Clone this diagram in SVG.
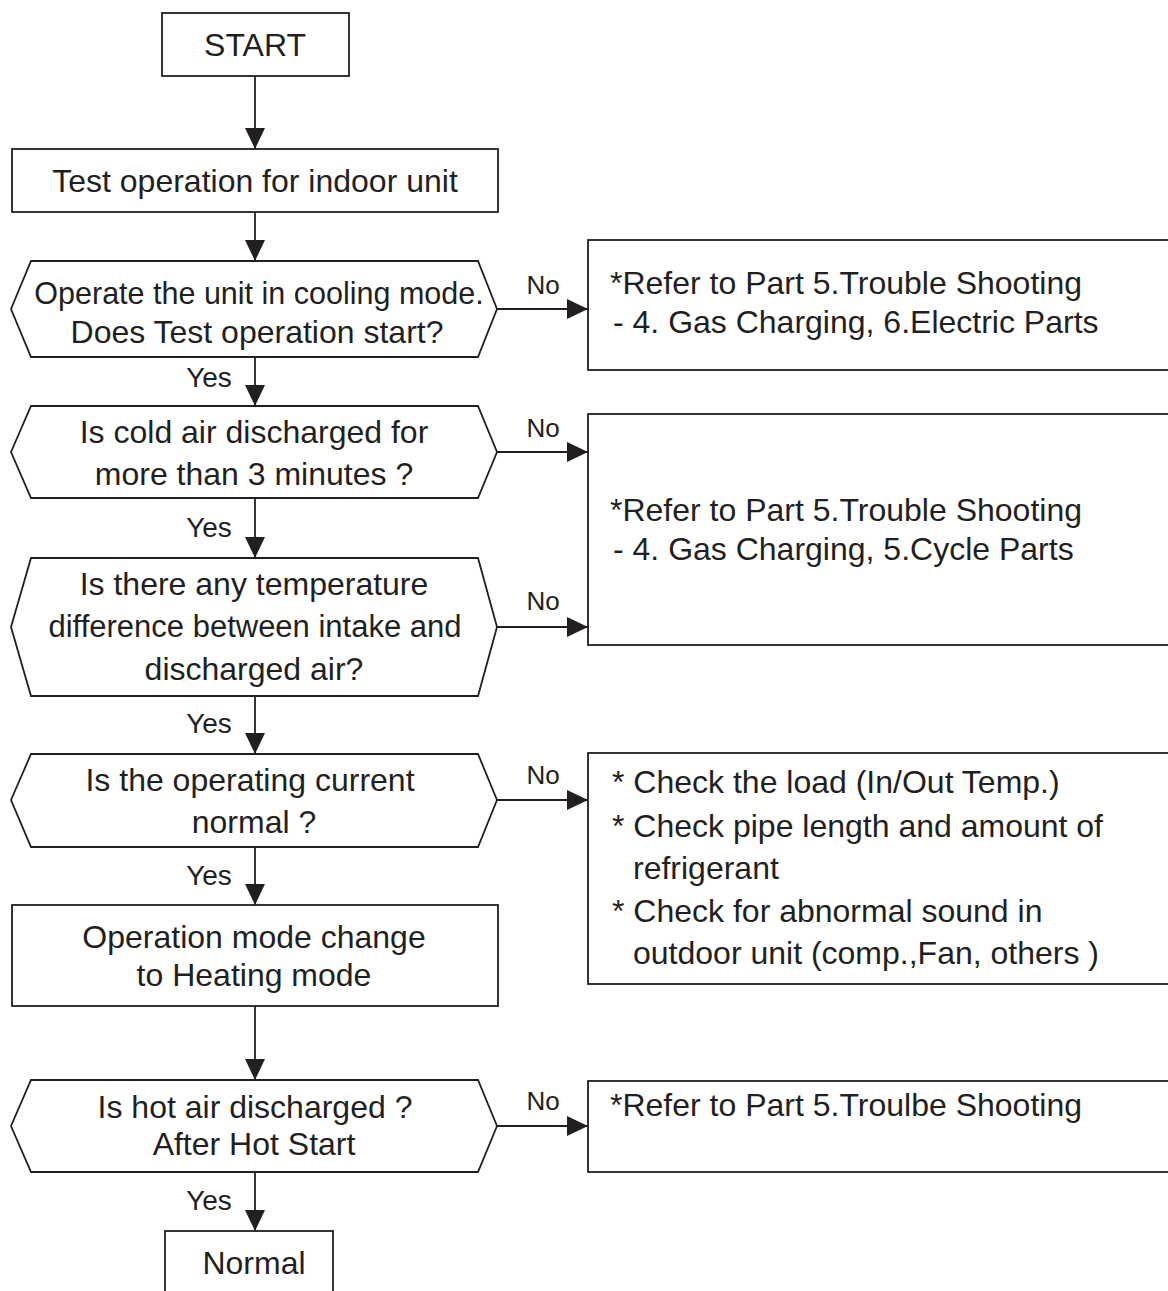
<svg xmlns="http://www.w3.org/2000/svg" width="1168" height="1291" viewBox="0 0 1168 1291">
<style>
.box{fill:#fff;stroke:#231f20;stroke-width:1.8}
.t{font-family:"Liberation Sans",Arial,sans-serif;font-size:32px;fill:#231f20}
.c{text-anchor:middle}
.lbl{font-family:"Liberation Sans",Arial,sans-serif;font-size:26px;fill:#231f20;text-anchor:middle}
.y{font-size:28px}
.ln{fill:none;stroke:#231f20;stroke-width:1.8}
</style>
<defs>
<marker id="ah" markerUnits="userSpaceOnUse" markerWidth="21" markerHeight="20" refX="21" refY="10" orient="auto">
<path d="M0,0 L21,10 L0,20 z" fill="#231f20"/>
</marker>
</defs>
<rect width="1168" height="1291" fill="#fff"/>
<g id="connectors">
<line class="ln" x1="255" y1="76" x2="255" y2="149" marker-end="url(#ah)"/>
<line class="ln" x1="255" y1="212" x2="255" y2="261" marker-end="url(#ah)"/>
<line class="ln" x1="255" y1="357" x2="255" y2="406" marker-end="url(#ah)"/>
<line class="ln" x1="255" y1="498" x2="255" y2="558" marker-end="url(#ah)"/>
<line class="ln" x1="255" y1="696" x2="255" y2="754" marker-end="url(#ah)"/>
<line class="ln" x1="255" y1="847" x2="255" y2="905" marker-end="url(#ah)"/>
<line class="ln" x1="255" y1="1006" x2="255" y2="1080" marker-end="url(#ah)"/>
<line class="ln" x1="255" y1="1172" x2="255" y2="1231" marker-end="url(#ah)"/>
<line class="ln" x1="497" y1="309" x2="588" y2="309" marker-end="url(#ah)"/>
<line class="ln" x1="497" y1="452" x2="588" y2="452" marker-end="url(#ah)"/>
<line class="ln" x1="497" y1="627" x2="588" y2="627" marker-end="url(#ah)"/>
<line class="ln" x1="497" y1="800" x2="588" y2="800" marker-end="url(#ah)"/>
<line class="ln" x1="497" y1="1126" x2="588" y2="1126" marker-end="url(#ah)"/>
<text class="lbl" x="543" y="294">No</text>
<text class="lbl" x="543" y="437">No</text>
<text class="lbl" x="543" y="610">No</text>
<text class="lbl" x="543" y="784">No</text>
<text class="lbl" x="543" y="1110">No</text>
<text class="lbl y" x="209" y="387">Yes</text>
<text class="lbl y" x="209" y="537">Yes</text>
<text class="lbl y" x="209" y="733">Yes</text>
<text class="lbl y" x="209" y="885">Yes</text>
<text class="lbl y" x="209" y="1210">Yes</text>
</g>
<g id="start">
<rect class="box" x="162" y="13" width="187" height="63"/>
<text class="t c" x="255" y="56">START</text>
</g>
<g id="test-op">
<rect class="box" x="12" y="149" width="486" height="63"/>
<text class="t c" x="255" y="192">Test operation for indoor unit</text>
</g>
<g id="d1">
<polygon class="box" points="11,309 31,261 478,261 497,309 478,357 31,357"/>
<text class="t c" x="259" y="304" style="font-size:30.5px">Operate the unit in cooling mode.</text>
<text class="t c" x="257" y="343">Does Test operation start?</text>
</g>
<g id="box1">
<rect class="box" x="588" y="240" width="600" height="130"/>
<text class="t" x="610" y="294">*Refer to Part 5.Trouble Shooting</text>
<text class="t" x="613" y="333">- 4. Gas Charging, 6.Electric Parts</text>
</g>
<g id="d2">
<polygon class="box" points="11,452 31,406 478,406 497,452 478,498 31,498"/>
<text class="t c" x="254" y="443">Is cold air discharged for</text>
<text class="t c" x="254" y="485">more than 3 minutes ?</text>
</g>
<g id="box2">
<rect class="box" x="588" y="414" width="600" height="231"/>
<text class="t" x="610" y="521">*Refer to Part 5.Trouble Shooting</text>
<text class="t" x="613" y="560">- 4. Gas Charging, 5.Cycle Parts</text>
</g>
<g id="d3">
<polygon class="box" points="11,627 31,558 478,558 497,627 478,696 31,696"/>
<text class="t c" x="254" y="595">Is there any temperature</text>
<text class="t c" x="255" y="637" style="font-size:31px">difference between intake and</text>
<text class="t c" x="254" y="680">discharged air?</text>
</g>
<g id="d4">
<polygon class="box" points="11,800 31,754 478,754 497,800 478,847 31,847"/>
<text class="t c" x="250" y="791">Is the operating current</text>
<text class="t c" x="254" y="833">normal ?</text>
</g>
<g id="box3">
<rect class="box" x="588" y="753" width="600" height="231"/>
<text class="t" x="612" y="793">* Check the load (In/Out Temp.)</text>
<text class="t" x="612" y="837">* Check pipe length and amount of</text>
<text class="t" x="633" y="879">refrigerant</text>
<text class="t" x="612" y="922">* Check for abnormal sound in</text>
<text class="t" x="633" y="964">outdoor unit (comp.,Fan, others )</text>
</g>
<g id="op-mode">
<rect class="box" x="12" y="905" width="486" height="101"/>
<text class="t c" x="254" y="948">Operation mode change</text>
<text class="t c" x="254" y="986">to Heating mode</text>
</g>
<g id="d5">
<polygon class="box" points="11,1126 31,1080 478,1080 497,1126 478,1172 31,1172"/>
<text class="t c" x="255" y="1118">Is hot air discharged ?</text>
<text class="t c" x="254" y="1155">After Hot Start</text>
</g>
<g id="box4">
<rect class="box" x="588" y="1081" width="600" height="91"/>
<text class="t" x="610" y="1116">*Refer to Part 5.Troulbe Shooting</text>
</g>
<g id="normal">
<rect class="box" x="165" y="1231" width="168" height="80"/>
<text class="t c" x="254" y="1274">Normal</text>
</g>
</svg>
